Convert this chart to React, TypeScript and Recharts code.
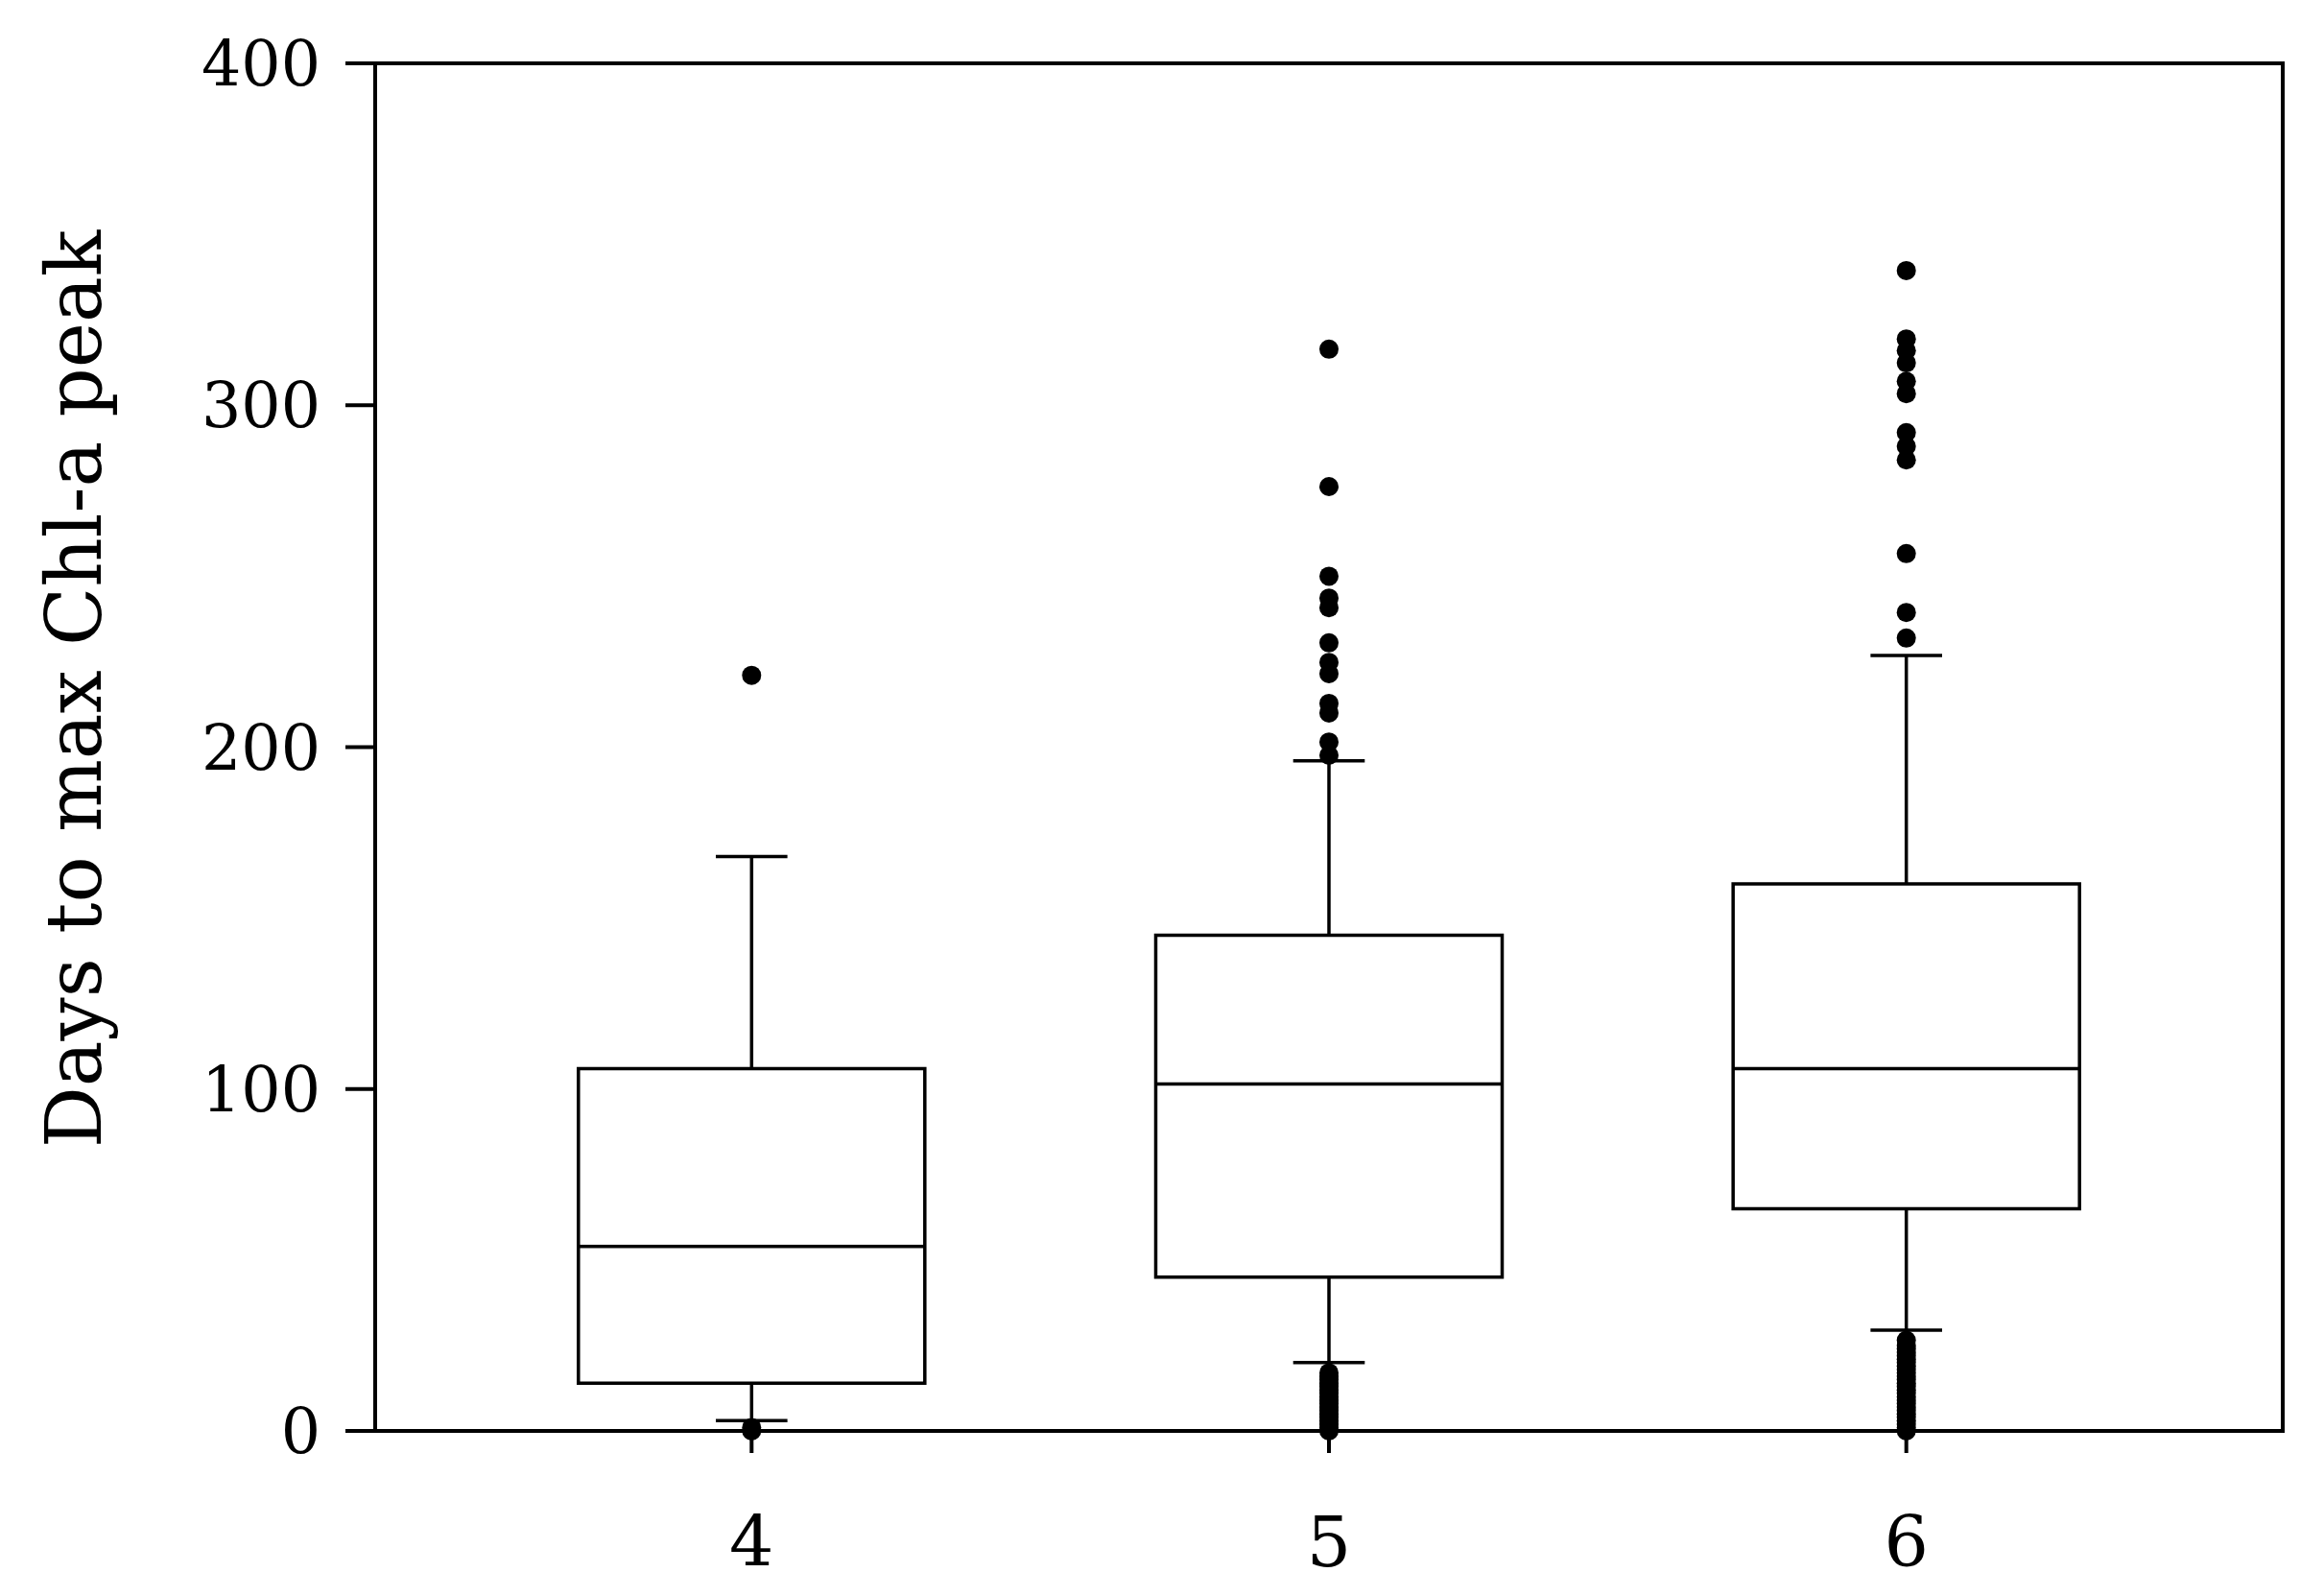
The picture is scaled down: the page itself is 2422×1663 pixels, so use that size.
import {
  ComposedChart,
  XAxis,
  YAxis,
  Scatter,
  ReferenceArea,
  ReferenceLine,
  Label
} from "recharts";

// box plot stats
const categories = [4, 5, 6];
const q1 = [14, 45, 65];
const median = [54, 101.5, 106];
const q3 = [106, 145, 160];
const whiskerLow = [3, 20, 29.5];
const whiskerHigh = [168, 196, 226.8];

const outliers4 = [0, 1, 221];
const outliers5 = [
  0, 1, 2, 3, 4, 5, 6, 7, 8, 9, 10, 11, 12, 13, 14, 15, 16, 17,
  197.6, 201.5, 210, 212.8, 221.5, 224.8, 230.5, 240.8, 243.6, 250, 276.2, 316.4
];
const outliers6 = [
  0, 1, 2, 3, 4, 5, 6, 7, 8, 9, 10, 11, 12, 13, 14, 15, 16, 17, 18, 19, 20,
  21, 22, 23, 24, 25, 26.5,
  231.9, 239.4, 256.6, 284, 288, 292, 303.4, 307, 312.4, 316, 319.4, 339.4
];

const yTicks = [0, 100, 200, 300, 400];
const xDomain = [3.348, 6.652];
const boxHalf = 0.3;
const capHalf = 0.062;

const outlierData = [
  ...outliers4.map((y) => ({ x: 4, y })),
  ...outliers5.map((y) => ({ x: 5, y })),
  ...outliers6.map((y) => ({ x: 6, y }))
];

const font = "'DejaVu Serif', serif";
const ink = "#000";
const axisStyle = { stroke: ink, strokeWidth: 4 };
const lw = 3.5;

export default function App() {
  return (
    <ComposedChart
      width={2400}
      height={1640}
      margin={{ top: 58, right: 29, bottom: 7, left: 223 }}
      style={{ fontFamily: font }}
    >
      <XAxis
        dataKey="x"
        type="number"
        domain={xDomain}
        ticks={categories}
        allowDataOverflow
        height={150}
        axisLine={axisStyle}
        tickLine={axisStyle}
        tickSize={23}
        tickMargin={66}
        tick={{ fill: ink, fontSize: 73, fontFamily: font }}
      />
      <YAxis
        dataKey="y"
        type="number"
        domain={[0, 400]}
        ticks={yTicks}
        width={160}
        axisLine={axisStyle}
        tickLine={axisStyle}
        tickSize={31}
        tickMargin={26}
        tick={{ fill: ink, fontSize: 65, fontFamily: font }}
      >
        <Label
          content={() => (
            <text
              x={69}
              y={710}
              transform="rotate(-90 69 710)"
              textAnchor="middle"
              dominantBaseline="central"
              fontSize={80}
              fontFamily={font}
              fill={ink}
            >
              Days to max Chl-a peak
            </text>
          )}
        />
      </YAxis>

      {/* plot frame */}
      <ReferenceArea
        x1={xDomain[0]}
        x2={xDomain[1]}
        y1={0}
        y2={400}
        fill="none"
        stroke={ink}
        strokeWidth={4}
      />

      {categories.map((c, i) => (
        <ReferenceArea
          key={"box" + c}
          x1={c - boxHalf}
          x2={c + boxHalf}
          y1={q1[i]}
          y2={q3[i]}
          fill="#fff"
          fillOpacity={1}
          stroke={ink}
          strokeWidth={lw}
        />
      ))}
      {categories.map((c, i) => (
        <ReferenceLine
          key={"med" + c}
          segment={[{ x: c - boxHalf, y: median[i] }, { x: c + boxHalf, y: median[i] }]}
          stroke={ink}
          strokeWidth={lw}
        />
      ))}
      {categories.map((c, i) => (
        <ReferenceLine
          key={"wu" + c}
          segment={[{ x: c, y: q3[i] }, { x: c, y: whiskerHigh[i] }]}
          stroke={ink}
          strokeWidth={lw}
        />
      ))}
      {categories.map((c, i) => (
        <ReferenceLine
          key={"wl" + c}
          segment={[{ x: c, y: whiskerLow[i] }, { x: c, y: q1[i] }]}
          stroke={ink}
          strokeWidth={lw}
        />
      ))}
      {categories.map((c, i) => (
        <ReferenceLine
          key={"cu" + c}
          segment={[{ x: c - capHalf, y: whiskerHigh[i] }, { x: c + capHalf, y: whiskerHigh[i] }]}
          stroke={ink}
          strokeWidth={lw}
        />
      ))}
      {categories.map((c, i) => (
        <ReferenceLine
          key={"cl" + c}
          segment={[{ x: c - capHalf, y: whiskerLow[i] }, { x: c + capHalf, y: whiskerLow[i] }]}
          stroke={ink}
          strokeWidth={lw}
        />
      ))}

      <Scatter
        data={outlierData}
        isAnimationActive={false}
        shape={(p: any) => <circle cx={p.cx} cy={p.cy} r={10} fill={ink} />}
      />
    </ComposedChart>
  );
}
